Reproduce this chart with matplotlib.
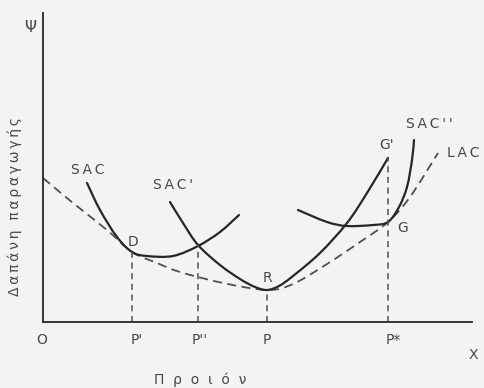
"""
Καμπύλες μέσου κόστους: βραχυχρόνιες SAC και μακροχρόνια LAC (περιβάλλουσα)
"""
import matplotlib
matplotlib.use("Agg")
import matplotlib.pyplot as plt
from matplotlib.path import Path
from matplotlib.patches import PathPatch

# ======================== δεδομένα (διαβασμένα από το σχήμα) ========================
# LAC - μακροχρόνιο μέσο κόστος (διακεκομμένη)
lac_x = [0, 30, 64, 89, 114, 137, 180, 224, 250, 284, 317, 345, 367, 395]
lac_y = [144, 119, 92, 70, 59, 50, 39, 32, 38, 58, 80, 100, 125, 169]

# SAC
sac_x = [44, 57, 74, 89, 104, 130, 155, 177, 196]
sac_y = [139, 112, 85, 70, 66, 66, 76, 90, 107]

# SAC'
sac1_x = [127, 140, 155, 177, 197, 212, 224, 236, 250, 277, 304, 324, 345]
sac1_y = [120, 99, 77, 57, 43, 35, 32, 36, 46, 69, 99, 129, 164]

# SAC''
sac2_x = [255, 284, 304, 330, 345, 356, 364, 369, 371]
sac2_y = [112, 100, 96, 97, 100, 115, 135, 162, 182]

# κατακόρυφες βοηθητικές γραμμές: (x, ύψος)
drop_x = [89, 155, 224, 345]
drop_top = [70, 77, 32, 164]

# ετικέτες άξονα x
tick_labels = ["O", "P'", "P''", "P", "P*"]
tick_x = [-1, 94, 157, 224, 350]

# ονόματα καμπυλών και σημείων
curve_labels = ["SAC", "SAC'", "SAC''", "LAC"]
curve_lab_x = [45, 130, 386, 404]
curve_lab_y = [152, 137, 198, 169]
point_labels = ["D", "R", "G", "G'"]
point_lab_x = [90, 224, 360, 344]
point_lab_y = [80, 44, 94, 177]
# ===================================================================================

INK = "#262626"
TXT = "#474747"
BG = "#f3f3f1"
TS = "\u2009"  # λεπτό κενό για αραιά γράμματα


def curve(xs, ys):
    """Path που περνά από όλα τα σημεία (Catmull-Rom σε κυβικά Bezier)"""
    pts = list(zip(xs, ys))
    pts = [pts[0]] + pts + [pts[-1]]
    verts = [pts[1]]
    codes = [Path.MOVETO]
    for i in range(1, len(pts) - 2):
        p0, p1, p2, p3 = pts[i - 1], pts[i], pts[i + 1], pts[i + 2]
        c1 = (p1[0] + (p2[0] - p0[0]) / 6, p1[1] + (p2[1] - p0[1]) / 6)
        c2 = (p2[0] - (p3[0] - p1[0]) / 6, p2[1] - (p3[1] - p1[1]) / 6)
        verts += [c1, c2, p2]
        codes += [Path.CURVE4] * 3
    return Path(verts, codes)


def spaced(s):
    return TS.join(s)


fig = plt.figure(figsize=(4.84, 3.88), dpi=100, facecolor=BG)
ax = fig.add_axes([43 / 484, 66 / 388, 429 / 484, 309 / 388])
ax.set_facecolor(BG)
ax.set_xlim(0, 429)
ax.set_ylim(0, 309)

for side in ["top", "right"]:
    ax.spines[side].set_visible(False)
for side in ["left", "bottom"]:
    ax.spines[side].set_color(INK)
    ax.spines[side].set_linewidth(1.3)
ax.set_xticks([])
ax.set_yticks([])

# καμπύλες
ax.add_patch(PathPatch(curve(lac_x, lac_y), fill=False, edgecolor="#505050",
                       lw=1.3, linestyle=(0, (5, 3))))
for xs, ys in [(sac_x, sac_y), (sac1_x, sac1_y), (sac2_x, sac2_y)]:
    ax.add_patch(PathPatch(curve(xs, ys), fill=False, edgecolor=INK, lw=1.6,
                           capstyle="round"))

# κατακόρυφες διακεκομμένες
for xv, top in zip(drop_x, drop_top):
    ax.plot([xv, xv], [0, top], color="#505050", lw=1.1, dashes=(4, 3))

fs = 10
for lab, xv in zip(tick_labels, tick_x):
    ax.text(xv, -18, lab, ha="center", va="center", fontsize=fs, color=TXT, clip_on=False)
ax.text(430, -33, "X", ha="center", va="center", fontsize=fs, color=TXT, clip_on=False)
ax.text(-13, 295, "Ψ", ha="center", va="center", fontsize=11, color=TXT, clip_on=False)

for lab, xv, yv in zip(curve_labels, curve_lab_x, curve_lab_y):
    ax.text(xv, yv, spaced(lab), ha="left" if lab == "LAC" else "center", va="center",
            fontsize=fs, color=TXT, clip_on=False)
for lab, xv, yv in zip(point_labels, point_lab_x, point_lab_y):
    ax.text(xv, yv, lab, ha="center", va="center", fontsize=fs, color=TXT)

# τίτλοι αξόνων
ax.text(157, -58, "Π  ρ  ο  ι  ό  ν", ha="center", va="center", fontsize=fs,
        color=TXT, clip_on=False)
ax.text(-28, 115, spaced("Δαπάνη παραγωγής"), ha="center", va="center", rotation=90,
        fontsize=fs, color=TXT, clip_on=False)

fig.savefig("out.png", dpi=100, facecolor=BG)
